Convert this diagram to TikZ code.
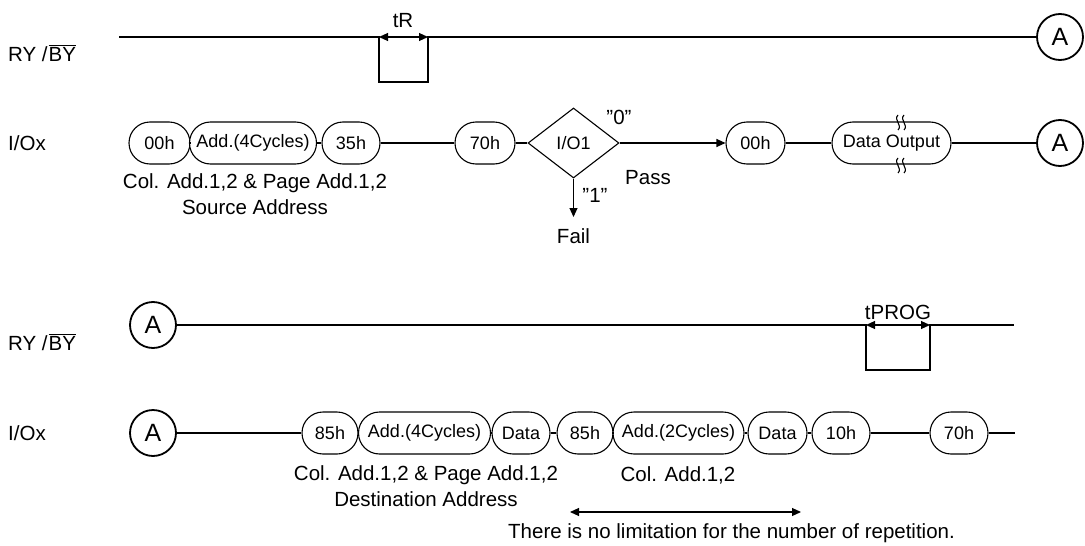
\documentclass[tikz,border=0pt]{standalone}
\usepackage{fontspec}
\setmainfont{Liberation Sans}
\usetikzlibrary{shapes.geometric,arrows.meta}
\tikzset{
  sig/.style={line width=1.1pt},
  pill/.style={rectangle, rounded corners=21pt, draw, fill=white, line width=1.1pt,
    minimum height=42pt, inner sep=0pt, font=\fontsize{18}{20}\selectfont},
  conn/.style={circle, draw, line width=1.8pt, minimum size=46pt, inner sep=0pt,
    font=\fontsize{25}{28}\selectfont},
  decide/.style={diamond, draw, line width=1.1pt, minimum width=91pt,
    minimum height=70pt, inner sep=0pt, font=\fontsize{18}{20}\selectfont},
  lbl/.style={inner sep=0pt, font=\fontsize{20.5}{23}\selectfont},
  onetip/.style={-{Triangle[length=9pt,width=8pt]}},
  twoway/.style={{Triangle[length=9pt,width=8pt]}-{Triangle[length=9pt,width=8pt]}}
}
\begin{document}
\begin{tikzpicture}[x=1pt,y=-1pt]
      \useasboundingbox (0,0) rectangle (1085,546);
      \draw
        (8,61) node[lbl,anchor=base west] (ry1){RY /\kern1pt$\overline{\mbox{BY}}$}
        (8,150) node[lbl,anchor=base west] (io1){I/Ox}
        (8,350) node[lbl,anchor=base west] (ry2){RY /\kern1pt$\overline{\mbox{BY}}$}
        (8,440) node[lbl,anchor=base west] (io2){I/Ox}
        (403,21) node[lbl] (tr){tR}
        (898,312) node[lbl] (tprog){tPROG}
        (1060,37) node[conn] (ca1){A}
        (1060,143) node[conn] (ca2){A}
        (153,325) node[conn] (ca3){A}
        (153,433) node[conn] (ca4){A};
      \draw
        (159.5,143) node[pill,minimum width=61pt] (a00){00h}
        (253,143) node[pill,minimum width=127pt] (aadd){Add.(4Cycles)}
        (351,143) node[pill,minimum width=58pt] (a35){35h}
        (485,143) node[pill,minimum width=60pt] (a70){70h}
        (573.5,143) node[decide] (chk){I/O1}
        (755.5,143) node[pill,minimum width=59pt] (b00){00h}
        (891.5,143) node[pill,minimum width=119pt] (dout){Data Output}
        (619,117) node[lbl] (zero){”0”}
        (595,195) node[lbl] (one){”1”}
        (648,178) node[lbl] (pass){Pass}
        (573.5,236) node[lbl] (fail){Fail}
        (255,183) node[lbl] (src1){Col. Add.1,2 \& Page Add.1,2}
        (255,207) node[lbl] (src2){Source Address};
      \draw
        (330,433) node[pill,minimum width=56pt] (c85){85h}
        (424.5,433) node[pill,minimum width=132pt] (cadd){Add.(4Cycles)}
        (521,433) node[pill,minimum width=58pt] (cdat){Data}
        (585,433) node[pill,minimum width=56pt] (d85){85h}
        (678.5,433) node[pill,minimum width=131pt] (dadd){Add.(2Cycles)}
        (777.5,433) node[pill,minimum width=59pt] (ddat){Data}
        (841,433) node[pill,minimum width=58pt] (d10){10h}
        (959,433) node[pill,minimum width=58pt] (d70){70h}
        (426,475) node[lbl] (dst1){Col. Add.1,2 \& Page Add.1,2}
        (426,499) node[lbl] (dst2){Destination Address}
        (678,475) node[lbl] (col2){Col. Add.1,2}
        (508,533) node[lbl,anchor=west] (note){There is no limitation for the number of repetition.};
      \coordinate (r1s) at (119,37);
      \coordinate (t1a) at (379,37);
      \coordinate (t1b) at (428,37);
      \coordinate (t2a) at (866,325);
      \coordinate (t2b) at (930,325);
      \coordinate (r2e) at (1014,325);
      \coordinate (i4e) at (1015,433);
      \coordinate (failtip) at (573.5,217);
      \coordinate (rep1) at (570,512);
      \coordinate (rep2) at (801,512);
      \begin{scope}[sig]
        \draw (r1s) -- (t1a) -- ++(0,45) -| (t1b) -- (ca1);
        \draw[twoway] (t1a) -- (t1b);
        \draw (ca3) -- (t2a) -- ++(0,45) -| (t2b) -- (r2e);
        \draw[twoway] (t2a) -- (t2b);
        \draw (a00) -- (aadd);
        \draw (aadd) -- (a35);
        \draw (a35) -- (a70);
        \draw (a70) -- (chk);
        \draw[onetip] (chk) -- (b00);
        \draw[onetip] (chk) -- (failtip);
        \draw (b00) -- (dout);
        \draw (dout) -- (ca2);
        \draw (ca4) -- (c85);
        \draw (c85) -- (cadd);
        \draw (cadd) -- (cdat);
        \draw (cdat) -- (d85);
        \draw (d85) -- (dadd);
        \draw (dadd) -- (ddat);
        \draw (ddat) -- (d10);
        \draw (d10) -- (d70);
        \draw (d70) -- (i4e);
        \draw[twoway] (rep1) -- (rep2);
        \draw (898,115) .. controls (893,120) and (903,125) .. (898,130);
        \draw (904,115) .. controls (899,120) and (909,125) .. (904,130);
        \draw (898,158) .. controls (893,163) and (903,168) .. (898,173);
        \draw (904,158) .. controls (899,163) and (909,168) .. (904,173);
      \end{scope}
    \end{tikzpicture}
\end{document}
